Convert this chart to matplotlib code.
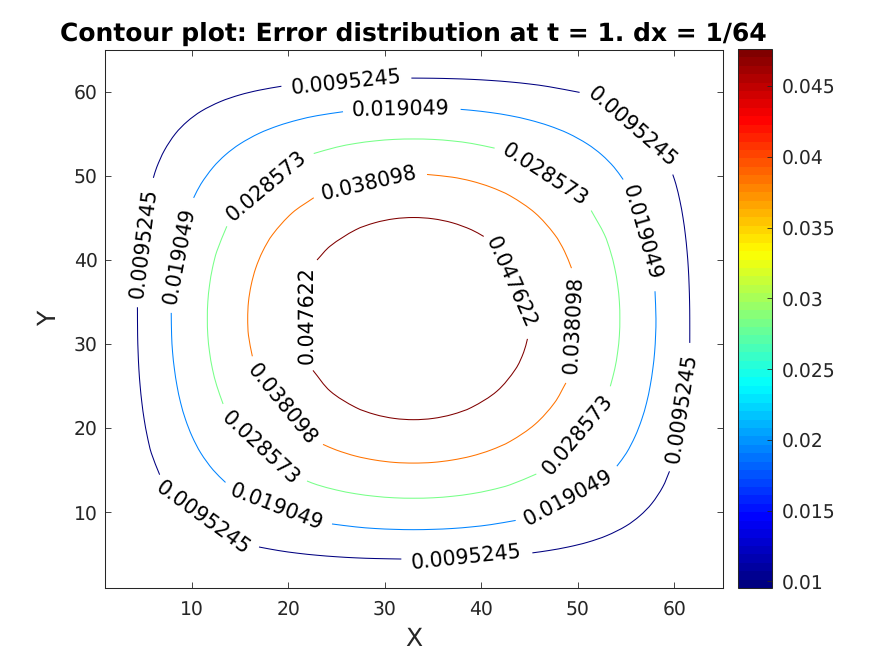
import math
import matplotlib
matplotlib.use("Agg")
import matplotlib.pyplot as plt
from matplotlib.cm import ScalarMappable
from matplotlib.colors import LinearSegmentedColormap, Normalize
from matplotlib.patches import PathPatch
from matplotlib.path import Path

plt.rcParams["text.hinting"] = "no_hinting"

# contour levels
level_1 = 0.0095245
level_2 = 0.019049
level_3 = 0.028573
level_4 = 0.038098
level_5 = 0.047622

# lines of each level, one piece per gap between labels
l1_a_x = [6.05, 6.4, 7.19, 8.34, 9.56, 11, 13, 15, 17, 19.31]
l1_a_y = [49.74, 51, 53, 55, 56.44, 57.66, 58.81, 59.6, 60.16, 60.63]
l1_b_x = [32.77, 35, 37, 39, 41, 43, 45, 47, 50.19]
l1_b_y = [61.6, 61.58, 61.53, 61.45, 61.32, 61.14, 60.9, 60.58, 59.9]
l1_c_x = [59.84, 60.16, 60.58, 60.9, 61.14, 61.32, 61.45, 61.53, 61.58, 61.6, 61.6]
l1_c_y = [50.13, 49, 47, 45, 43, 41, 39, 37, 35, 33, 30.11]
l1_d_x = [59.5, 58.81, 57.66, 56.44, 55, 53, 51, 49, 47, 45.3]
l1_d_y = [14.84, 13, 11, 9.56, 8.34, 7.19, 6.4, 5.84, 5.42, 5.14]
l1_e_x = [31.73, 29, 27, 25, 23, 21, 19, 16.99]
l1_e_y = [4.41, 4.47, 4.55, 4.68, 4.86, 5.1, 5.42, 5.84]
l1_f_x = [6.7, 5.84, 5.42, 5.1, 4.86, 4.68, 4.55, 4.47, 4.42, 4.4]
l1_f_y = [14.44, 17, 19, 21, 23, 25, 27, 29, 31, 34.35]

l2_a_x = [10.22, 10.97, 12.24, 13.52, 15, 17, 19, 21, 23, 25.69]
l2_a_y = [47.36, 49, 51, 52.48, 53.76, 55.03, 55.94, 56.62, 57.13, 57.6]
l2_b_x = [37.87, 39, 41, 43, 45, 47, 49, 51, 52.48, 53.76, 54.7]
l2_b_y = [57.88, 57.77, 57.5, 57.13, 56.62, 55.94, 55.03, 53.76, 52.48, 51, 49.54]
l2_c_x = [58, 58.1, 58.06, 57.96, 57.77, 57.5, 57.13, 56.62, 55.94, 55.03, 54.05]
l2_c_y = [36.25, 33, 31, 29, 27, 25, 23, 21, 19, 17, 15.45]
l2_d_x = [43.57, 41, 39, 37, 35, 33, 31, 29, 27, 24.55]
l2_d_y = [9, 8.5, 8.23, 8.04, 7.94, 7.9, 7.94, 8.04, 8.23, 8.58]
l2_e_x = [13.52, 12.24, 10.97, 10.06, 9.38, 8.87, 8.5, 8.23, 8.04, 7.94, 7.9]
l2_e_y = [13.52, 15, 17, 19, 21, 23, 25, 27, 29, 31, 33.68]

l3_a_x = [22.66, 25, 27, 29, 31, 33, 35, 37, 39, 41.39]
l3_a_y = [52.63, 53.38, 53.83, 54.13, 54.31, 54.36, 54.31, 54.13, 53.83, 53.27]
l3_b_x = [51.39, 52.76, 53.38, 53.83, 54.13, 54.31, 54.36, 54.31, 54.13, 53.83, 53.37]
l3_b_y = [45.85, 43, 41, 39, 37, 35, 33, 31, 29, 27, 24.95]
l3_c_x = [45.71, 43, 41, 39, 37, 35, 33, 31, 29, 27, 25, 23, 21.96]
l3_c_y = [14.52, 13.24, 12.62, 12.17, 11.87, 11.69, 11.64, 11.69, 11.87, 12.17, 12.62, 13.24, 13.69]
l3_d_x = [13.27, 12.62, 12.17, 11.87, 11.69, 11.64, 11.69, 11.87, 12.17, 12.62, 13.66]
l3_d_y = [22.85, 25, 27, 29, 31, 33, 35, 37, 39, 41, 43.98]

l4_a_x = [34.39, 37, 39, 41, 43, 45.57, 47.6, 48.63, 49.35]
l4_a_y = [50.14, 49.82, 49.35, 48.63, 47.6, 45.57, 43, 41, 39]
l4_b_x = [48.77, 47.6, 45.57, 43, 41, 39, 37, 35, 33, 31, 29, 27, 25, 23.62]
l4_b_y = [25.35, 23, 20.43, 18.4, 17.37, 16.65, 16.18, 15.9, 15.82, 15.9, 16.18, 16.65, 17.37, 18.04]
l4_c_x = [16.3, 15.9, 15.82, 15.9, 16.18, 16.65, 17.37, 18.4, 20.43, 22.66]
l4_c_y = [28.52, 31, 33, 35, 37, 39, 41, 43, 45.57, 47.37]

l5_a_x = [23, 24.37, 27, 29, 31, 33, 35, 37, 39, 40.26]
l5_a_y = [39.97, 41.63, 43.56, 44.4, 44.87, 45.02, 44.87, 44.4, 43.56, 42.77]
l5_b_x = [44.79, 44.4, 43.56, 41.63, 39, 37, 35, 33, 31, 29, 27, 24.37, 22.58]
l5_b_y = [30.59, 29, 27, 24.37, 22.44, 21.6, 21.13, 20.98, 21.13, 21.6, 22.44, 24.37, 26.84]

# inline labels: level text, position, rotation on screen
label_text = ["0.0095245"] * 6 + ["0.019049"] * 5 + ["0.028573"] * 4 + ["0.038098"] * 3 + ["0.047622"] * 2
label_x = [26.04, 55.65, 60.72, 38.46, 11.2, 4.99,
           8.68, 31.66, 56.68, 48.98, 18.8,
           17.76, 46.57, 49.95, 17.17,
           28.38, 49.47, 19.42,
           21.9, 43.05]
label_y = [61.11, 55.8, 22.38, 4.6, 9.29, 42.0,
           40.41, 57.86, 43.2, 11.67, 10.6,
           48.74, 50.13, 19.2, 17.62,
           49.14, 32.29, 22.77,
           33.38, 37.28]
label_rot = [6, -41, 81, 6, -36, 83,
             79, 1, -74, 28, -21,
             40, -33, 50, -43,
             13, 87, -51,
             90, -66]

x_ticks = [10, 20, 30, 40, 50, 60]
y_ticks = [10, 20, 30, 40, 50, 60]
cbar_ticks = [0.01, 0.015, 0.02, 0.025, 0.03, 0.035, 0.04, 0.045]
cbar_labels = ["0.01", "0.015", "0.02", "0.025", "0.03", "0.035", "0.04", "0.045"]

pieces = [
    (level_1, [(l1_a_x, l1_a_y), (l1_b_x, l1_b_y), (l1_c_x, l1_c_y), (l1_d_x, l1_d_y), (l1_e_x, l1_e_y), (l1_f_x, l1_f_y)]),
    (level_2, [(l2_a_x, l2_a_y), (l2_b_x, l2_b_y), (l2_c_x, l2_c_y), (l2_d_x, l2_d_y), (l2_e_x, l2_e_y)]),
    (level_3, [(l3_a_x, l3_a_y), (l3_b_x, l3_b_y), (l3_c_x, l3_c_y), (l3_d_x, l3_d_y)]),
    (level_4, [(l4_a_x, l4_a_y), (l4_b_x, l4_b_y), (l4_c_x, l4_c_y)]),
    (level_5, [(l5_a_x, l5_a_y), (l5_b_x, l5_b_y)]),
]

W, H = 891, 661
dark = "#262626"


# direction of the line at a point, from its two neighbours
def direction(p_before, p_after):
    dx = p_after[0] - p_before[0]
    dy = p_after[1] - p_before[1]
    size = math.hypot(dx, dy)
    return dx / size, dy / size


# rounds the corners between the points, the line still goes through each of them
def curve_through(xs, ys):
    pts = list(zip(xs, ys))
    verts = [pts[0]]
    codes = [Path.MOVETO]
    for i in range(len(pts) - 1):
        p0 = pts[max(i - 1, 0)]
        p1 = pts[i]
        p2 = pts[i + 1]
        p3 = pts[min(i + 2, len(pts) - 1)]
        d = math.hypot(p2[0] - p1[0], p2[1] - p1[1]) / 3
        t1 = direction(p0, p2)
        t2 = direction(p1, p3)
        verts += [(p1[0] + t1[0] * d, p1[1] + t1[1] * d),
                  (p2[0] - t2[0] * d, p2[1] - t2[1] * d), p2]
        codes += [Path.CURVE4] * 3
    return Path(verts, codes)


# same jet as MATLAB, 64 steps
jet = LinearSegmentedColormap.from_list(
    "jet64",
    [(0, (0, 0, 0.5)), (0.125, (0, 0, 1)), (0.375, (0, 1, 1)),
     (0.625, (1, 1, 0)), (0.875, (1, 0, 0)), (1, (0.5, 0, 0))],
    N=64)
norm = Normalize(level_1, level_5)

fig = plt.figure(figsize=(W / 100, H / 100), dpi=100)
ax = fig.add_axes([104.6 / W, 1 - 587.7 / H, 618 / W, 538.2 / H])

for level, arcs in pieces:
    for xs, ys in arcs:
        ax.add_patch(PathPatch(curve_through(xs, ys), facecolor="none",
                               edgecolor=jet(norm(level)), linewidth=0.75))

for text, x, y, rot in zip(label_text, label_x, label_y, label_rot):
    ax.text(x, y, text, fontsize=14.8, color="black", rotation=rot,
            rotation_mode="anchor", ha="center", va="center")

ax.set_xlim(1, 65)
ax.set_ylim(1, 65)
ax.set_xticks(x_ticks)
ax.set_yticks(y_ticks)
ax.tick_params(direction="in", length=4.45, width=0.6, top=True, right=True,
               labelsize=13.5, color=dark, labelcolor=dark, pad=5)
ax.tick_params(axis="x", pad=9)
for spine in ax.spines.values():
    spine.set_linewidth(0.75)
    spine.set_color(dark)

ax.set_xlabel("X", fontsize=18, color=dark, labelpad=6)
ax.set_ylabel("Y", fontsize=18, color=dark, labelpad=9)
ax.set_title("Contour plot: Error distribution at t = 1. dx = 1/64",
             fontsize=18, fontweight="bold", color="black", pad=6)

cax = fig.add_axes([738.3 / W, 1 - 588.2 / H, 33.4 / W, 539.4 / H])
cbar = fig.colorbar(ScalarMappable(norm=norm, cmap=jet), cax=cax)
cbar.set_ticks(cbar_ticks)
cbar.set_ticklabels(cbar_labels)
cbar.ax.tick_params(direction="in", length=3.4, width=0.6, labelsize=13.5,
                    color=dark, labelcolor=dark, pad=7)
cbar.outline.set_linewidth(0.75)
cbar.outline.set_edgecolor(dark)

fig.savefig("out.png", dpi=100)
